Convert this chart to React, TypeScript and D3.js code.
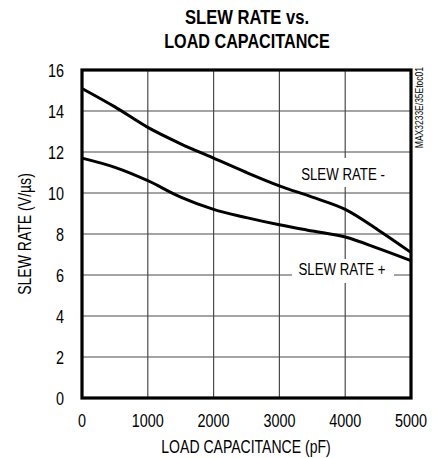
import React from 'react';
import * as d3 from 'd3';

const capacitance = [0, 500, 1000, 1500, 2000, 2500, 3000, 3500, 4000, 4500, 5000];
const slewMinus = [15.1, 14.2, 13.2, 12.4, 11.7, 11.0, 10.35, 9.8, 9.2, 8.2, 7.1];
const slewPlus = [11.7, 11.25, 10.6, 9.8, 9.2, 8.8, 8.45, 8.15, 7.85, 7.3, 6.7];
const xTicks = [0, 1000, 2000, 3000, 4000, 5000];
const yTicks = [0, 2, 4, 6, 8, 10, 12, 14, 16];

const W = 435;
const H = 458;
const margin = { left: 82, right: 24, top: 70, bottom: 60 };
const font = '"Liberation Sans", Arial, sans-serif';

// narrow text: the original uses a condensed Helvetica, squeeze Liberation Sans horizontally
const N = ({ x, y, size = 18, anchor = 'middle', rotate = 0, sx = 0.8, bold = false, children }: any) => (
  <text
    transform={`translate(${x},${y}) rotate(${rotate}) scale(${sx},1)`}
    textAnchor={anchor}
    fontSize={size}
    fontWeight={bold ? 'bold' : 'normal'}
    fill="#000"
  >
    {children}
  </text>
);

export default function App() {
  const x = d3.scaleLinear().domain([0, 5000]).range([margin.left, W - margin.right]);
  const y = d3.scaleLinear().domain([0, 16]).range([H - margin.bottom, margin.top]);

  const line = d3.line<number>()
    .x((_, i) => x(capacitance[i]))
    .y(d => y(d))
    .curve(d3.curveMonotoneX);

  const x0 = x(0), x1 = x(5000), y0 = y(0), y1 = y(16);

  return (
    <svg width={W} height={H} style={{ position: 'absolute', left: 0, top: 0, background: '#fff' }} fontFamily={font}>
      <N x={247} y={24} size={21} bold sx={0.79}>SLEW RATE vs.</N>
      <N x={247} y={48} size={21} bold sx={0.77}>LOAD CAPACITANCE</N>

      {/* grid */}
      {xTicks.slice(1, -1).map(t => (
        <line key={'gx' + t} x1={x(t)} x2={x(t)} y1={y1} y2={y0} stroke="#4a4a4a" strokeWidth={1.2} />
      ))}
      {yTicks.slice(1, -1).map(t => (
        <line key={'gy' + t} x1={x0} x2={x1} y1={y(t)} y2={y(t)} stroke="#4a4a4a" strokeWidth={1.2} />
      ))}

      {/* curve labels with white boxes */}
      <rect x={295} y={158} width={95} height={29} fill="#fff" />
      <N x={343} y={180} size={17} sx={0.78}>SLEW RATE -</N>
      <rect x={292} y={259} width={102} height={24} fill="#fff" />
      <N x={342} y={275} size={17} sx={0.78}>SLEW RATE +</N>

      <path d={line(slewMinus) || ''} fill="none" stroke="#000" strokeWidth={3} />
      <path d={line(slewPlus) || ''} fill="none" stroke="#000" strokeWidth={3} />

      {/* frame */}
      <rect x={x0} y={y1} width={x1 - x0} height={y0 - y1} fill="none" stroke="#000" strokeWidth={3.2} />

      {/* ticks */}
      {yTicks.map(t => (
        <N key={'ty' + t} x={64} y={y(t) + 6.5} anchor="end">{t}</N>
      ))}
      {xTicks.map(t => (
        <N key={'tx' + t} x={x(t)} y={427}>{t}</N>
      ))}

      <N x={246} y={453} sx={0.78}>LOAD CAPACITANCE (pF)</N>
      <N x={31} y={(y0 + y1) / 2} rotate={-90} sx={0.78}>SLEW RATE (V/µs)</N>
      <N x={423} y={67} size={10} anchor="end" rotate={-90} sx={0.85}>MAX3233E/35Etoc01</N>
    </svg>
  );
}
